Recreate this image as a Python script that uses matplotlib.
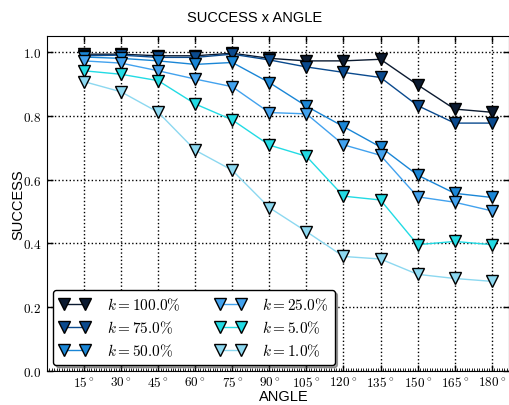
import matplotlib
matplotlib.use("Agg")
import matplotlib.pyplot as plt
from matplotlib.ticker import MultipleLocator, FuncFormatter, FixedLocator
from matplotlib.legend_handler import HandlerLine2D
from matplotlib.lines import Line2D

plt.rcParams['mathtext.fontset'] = 'cm'
plt.rcParams['font.family'] = ['Liberation Sans', 'DejaVu Sans']

angles = [15, 30, 45, 60, 75, 90, 105, 120, 135, 150, 165, 180]
labels = [r"$k=100.0\%$", r"$k=75.0\%$", r"$k=50.0\%$",
          r"$k=25.0\%$", r"$k=5.0\%$", r"$k=1.0\%$"]
k100 = [0.993, 0.993, 0.988, 0.988, 0.996, 0.980, 0.972, 0.972, 0.977, 0.897, 0.821, 0.811]
k75 = [0.988, 0.990, 0.983, 0.983, 0.993, 0.975, 0.953, 0.936, 0.920, 0.832, 0.777, 0.777]
k50 = [0.984, 0.980, 0.972, 0.961, 0.967, 0.904, 0.830, 0.766, 0.702, 0.614, 0.557, 0.544]
k25 = [0.972, 0.965, 0.941, 0.915, 0.891, 0.810, 0.806, 0.709, 0.676, 0.546, 0.529, 0.502]
k5 = [0.941, 0.930, 0.910, 0.837, 0.787, 0.708, 0.673, 0.548, 0.536, 0.396, 0.406, 0.396]
k1 = [0.907, 0.875, 0.811, 0.692, 0.629, 0.512, 0.437, 0.359, 0.351, 0.303, 0.290, 0.281]
series = [k100, k75, k50, k25, k5, k1]
colors = ['#0b1a30', '#0a4a8e', '#1a86d6', '#42a2ee', '#22dbe4', '#8cd8f0']

W, H = 510, 406
fig = plt.figure(figsize=(W / 100, H / 100), dpi=100)
ax = fig.add_axes([47 / W, 1 - 372 / H, (509 - 47) / W, (372 - 37) / H])

for vals, c, lab in zip(series, colors, labels):
    ax.plot(angles, vals, color=c, lw=1.0, marker='v', markersize=9,
            markerfacecolor=c, markeredgecolor='black', markeredgewidth=1.0,
            label=lab)

ax.set_xlim(0, 187)
ax.set_ylim(0, 1.05)
ax.xaxis.set_major_locator(FixedLocator(angles))
ax.xaxis.set_major_formatter(FuncFormatter(lambda v, p: r"$%d^\circ$" % v))
ax.xaxis.set_minor_locator(MultipleLocator(1))
ax.yaxis.set_major_locator(MultipleLocator(0.2))
ax.yaxis.set_major_formatter(FuncFormatter(lambda v, p: r"$%.1f$" % v))
ax.tick_params(axis='both', which='major', direction='in', length=4, width=1,
               top=True, right=True, labelsize=9.5, pad=4)
ax.tick_params(axis='x', which='major', pad=3)
ax.tick_params(axis='x', which='minor', direction='in', length=2, width=0.6,
               top=False, bottom=True)
ax.grid(True, which='major', linestyle=':', color='black', lw=1)

fig.text(0.5, 1 - 18 / H, "SUCCESS x ANGLE", fontsize=10.5, ha='center', va='center')
fig.text(284 / W, 1 - 401 / H, "ANGLE", fontsize=10.5, ha='center', va='baseline')
fig.text(18 / W, 1 - 205 / H, "SUCCESS", fontsize=10.5, ha='center', va='center',
         rotation=90)

leg = ax.legend(loc='lower left', ncol=2, fontsize=11, numpoints=2,
                fancybox=True, shadow=True, framealpha=1, edgecolor='black',
                handlelength=2.0, handletextpad=1.1, columnspacing=2.26,
                borderaxespad=0.4, labelspacing=0.45,
                handler_map={Line2D: HandlerLine2D(numpoints=2)})
leg.get_frame().set_linewidth(1.0)

fig.savefig("out.png", dpi=100)
